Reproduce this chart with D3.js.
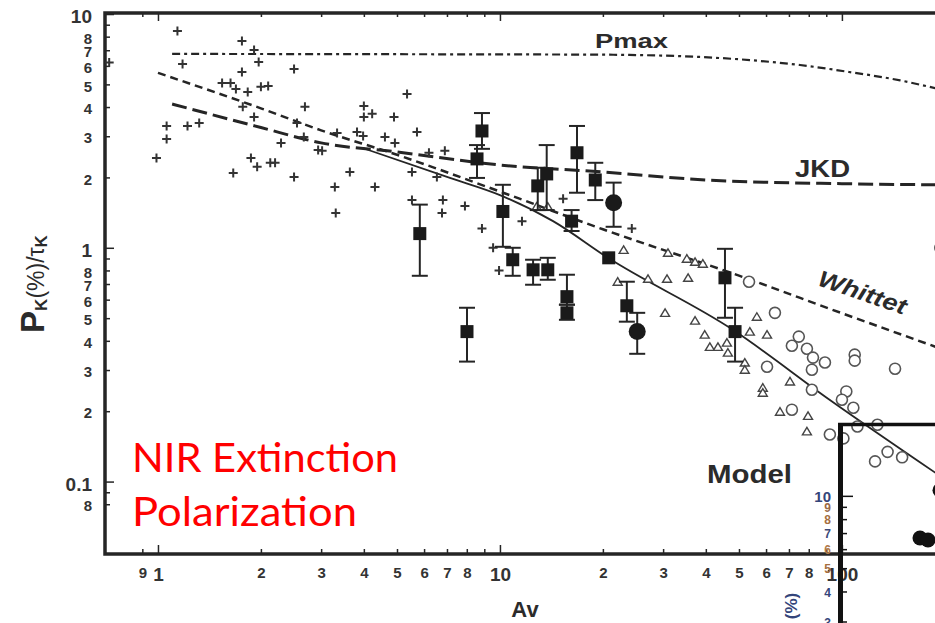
<!DOCTYPE html>
<html>
<head>
<meta charset="utf-8">
<script src="https://cdn.jsdelivr.net/npm/d3@7"></script>
<style>
  body { margin: 0; background: #fff; }
  svg { display: block; font-family: "Liberation Sans", Arial, sans-serif; }
</style>
</head>
<body>
<div id="chart"></div>
<script>
// Pk(%)/tauK against Av, log-log
// =========================================================

// field stars (+)
var crossPts = [
  [0.72,6.2],[1.14,8.46],[1.76,7.67],[1.91,7.02],[1.18,6.11],[1.97,6.24],[2.50,5.82],[1.76,5.65],
  [1.54,5.07],[1.63,5.07],[1.69,4.78],[1.83,4.64],[2.00,4.88],[2.10,4.92],[2.69,4.01],[1.77,4.01],
  [1.91,3.63],[1.06,3.32],[1.22,3.32],[1.32,3.42],[2.55,3.42],[1.06,2.92],[2.29,2.81],[2.67,2.98],
  [2.94,2.62],[0.99,2.42],[1.87,2.42],[1.95,2.22],[2.13,2.31],[2.20,2.31],[1.66,2.09],[2.50,2.01],
  [5.35,4.55],[4.00,4.04],[4.00,3.63],[4.23,3.74],[4.90,3.63],[5.72,3.13],[3.34,3.10],[3.82,3.13],
  [3.98,3.01],[4.61,2.98],[4.93,2.81],[3.02,2.60],[6.20,2.55],[6.90,2.60],[3.64,2.11],[5.53,2.11],
  [6.54,2.01],[3.29,1.82],[4.31,1.82],[5.53,1.60],[6.81,1.60],[7.90,1.51],[3.31,1.41],[6.77,1.41],
  [15.3,1.62],[8.86,1.21],[11.6,1.30],[9.94,0.80],[9.55,1.00],[24.3,1.21]
];

// open triangles
var triPts = [
  [23.0,0.98],[31.0,0.952],[35.2,0.898],[37.2,0.871],[39.2,0.855],[22.1,0.716],[27.1,0.737],
  [30.8,0.737],[35.5,0.744],[30.4,0.527],[37.2,0.488],[56.4,0.507],[39.7,0.425],[53.8,0.438],
  [60.4,0.425],[41.1,0.377],[43.4,0.377],[46.1,0.393],[46.4,0.356],[52.0,0.323],[52.0,0.301],
  [70.5,0.268],[58.7,0.252],[58.7,0.240],[65.9,0.199],[79.6,0.191],[79.0,0.164],[12.8,1.50],[13.8,1.50]
];

// open circles
var circPts = [
  [53.5,0.716],[63.7,0.527],[74.8,0.417],[71.4,0.381],[79.0,0.370],[82.3,0.339],[89.2,0.323],
  [81.7,0.301],[60.4,0.310],[109,0.349],[109,0.329],[143,0.304],[81.7,0.247],[103,0.243],
  [100,0.224],[108,0.207],[71.4,0.203],[111,0.172],[127,0.175],[92.2,0.159],[101,0.153],
  [125,0.122],[136,0.134],[150,0.127],[194,1.0]
];

// filled squares with error bars: Av, value, low, high
var sqPts = [
  [8.86,3.16,2.65,3.77],[8.57,2.40,1.99,2.75],[10.2,1.43,1.01,1.86],[13.7,2.07,1.45,2.75],
  [12.9,1.84,1.45,2.20],[16.8,2.55,1.72,3.32],[19.0,1.95,1.60,2.31],[16.2,1.30,1.18,1.45],
  [5.83,1.15,0.759,1.53],[8.01,0.438,0.326,0.554],[10.9,0.889,0.759,1.0],[12.5,0.805,0.695,0.889],
  [13.8,0.805,0.730,0.906],[15.7,0.618,0.571,0.767],[15.7,0.527,0.492,0.571],[20.8,0.906,0.906,0.906],
  [23.5,0.565,0.483,0.716],[45.5,0.744,0.502,0.99],[48.7,0.438,0.326,0.554]
];

// filled circles with error bars
var dotPts = [[21.5,1.56,1.23,1.90],[25.2,0.438,0.352,0.527]];

// curves
var pmaxAv = [1.1, 5, 19.6, 38.4, 53.8, 75.4, 105, 148, 195];
var pmaxP  = [6.75, 6.73, 6.7, 6.55, 6.35, 6.05, 5.65, 5.2, 4.75];
var jkdAv  = [1.1, 2.0, 3.0, 5.0, 10, 20, 40, 100, 195];
var jkdP   = [4.12, 3.27, 2.81, 2.57, 2.26, 2.11, 1.95, 1.88, 1.86];
var whitAv = [1.0, 2, 3, 5, 10, 20, 50, 100, 195];
var whitP  = [5.6, 3.95, 3.18, 2.5, 1.74, 1.2, 0.76, 0.525, 0.37];
var modelAv = [4.0, 7.14, 10, 14.3, 20.7, 48, 92, 195];
var modelP  = [2.66, 1.99, 1.68, 1.30, 0.906, 0.446, 0.224, 0.105];

// ticks
var xTicks = [0.9,1,2,3,4,5,6,7,8,9,10,20,30,40,50,60,70,80,90,100];
var xTickLabels = ["9","1","2","3","4","5","6","7","8","","10","2","3","4","5","6","7","8","","100"];
var yTicks = [0.08,0.09,0.1,0.2,0.3,0.4,0.5,0.6,0.7,0.8,0.9,1,2,3,4,5,6,7,8,9,10];
var yTickLabels = ["8","","0.1","2","3","4","5","6","7","8","","1","2","3","4","5","6","7","8","","10"];
var majors = [1, 10, 100, 0.1];

// inset (another figure pasted over the corner)
var insetTicks = [10,9,8,7,6,5,4,3];
var insetColors = ["#34457a","#9a6a45","#a56e40","#3c4a78","#b07a4a","#a56e40","#34457a","#34457a"];
var insetPts = [[0.50,10.6],[0.40,6.71],[0.44,6.58]];

var width = 935, height = 623;
var ink = "#252525";

var svg = d3.select("#chart").append("svg")
    .attr("width", width)
    .attr("height", height);

svg.append("rect").attr("width", width).attr("height", height).attr("fill", "#fff");

var x = d3.scaleLog().domain([0.7, 250]).range([105, 978]);
var y = d3.scaleLog().domain([0.049, 10.1]).range([554, 13]);

svg.append("clipPath").attr("id", "plotclip")
  .append("rect").attr("x", 105).attr("y", 13).attr("width", 873).attr("height", 541);

var isMajor = function(d) { return majors.indexOf(d) >= 0; };

// axes
var xAxis = svg.append("g")
    .attr("transform", "translate(0,554)")
    .call(d3.axisBottom(x).tickValues(xTicks)
        .tickFormat(function(d, i) { return xTickLabels[i]; })
        .tickSizeInner(-5).tickSizeOuter(0).tickPadding(13));
xAxis.select(".domain").remove();
xAxis.selectAll(".tick line").attr("stroke", ink).attr("stroke-width", 1.5)
    .attr("y2", function(d) { return isMajor(d) ? -9 : -5; });
xAxis.selectAll(".tick text")
    .attr("fill", "#333").attr("font-weight", "bold")
    .attr("font-size", function(d) { return isMajor(d) ? 19 : 15; })
    .attr("y", function(d) { return isMajor(d) ? 14 : 13; });

var topAxis = svg.append("g")
    .attr("transform", "translate(0,13)")
    .call(d3.axisTop(x).tickValues(xTicks).tickFormat("").tickSizeInner(-4).tickSizeOuter(0));
topAxis.select(".domain").remove();
topAxis.selectAll(".tick line").attr("stroke", ink).attr("stroke-width", 1.5)
    .attr("y2", function(d) { return isMajor(d) ? 8 : 4; });

var yAxis = svg.append("g")
    .attr("transform", "translate(105,0)")
    .call(d3.axisLeft(y).tickValues(yTicks)
        .tickFormat(function(d, i) { return yTickLabels[i]; })
        .tickSizeInner(-5).tickSizeOuter(0).tickPadding(13));
yAxis.select(".domain").remove();
yAxis.selectAll(".tick line").attr("stroke", ink).attr("stroke-width", 1.5)
    .attr("x2", function(d) { return isMajor(d) ? 9 : 5; });
yAxis.selectAll(".tick text")
    .attr("fill", "#333").attr("font-weight", "bold")
    .attr("font-size", function(d) { return isMajor(d) ? 19 : 15; })
    .attr("dy", "0.45em");

// frame
svg.append("rect")
    .attr("x", 105).attr("y", 13).attr("width", 873).attr("height", 541)
    .attr("fill", "none").attr("stroke", ink).attr("stroke-width", 3.5);

var plot = svg.append("g").attr("clip-path", "url(#plotclip)");

// curves
var line = d3.line()
    .x(function(d) { return x(d[0]); })
    .y(function(d) { return y(d[1]); })
    .curve(d3.curveMonotoneX);

function zip(a, b) { return a.map(function(v, i) { return [v, b[i]]; }); }

var curves = [
  {pts: zip(pmaxAv, pmaxP), dash: "8,4,3,4", w: 2.2},
  {pts: zip(jkdAv, jkdP), dash: "15,6", w: 3},
  {pts: zip(whitAv, whitP), dash: "8,5", w: 2.5},
  {pts: zip(modelAv, modelP), dash: null, w: 1.8}
];
plot.selectAll("path.curve")
    .data(curves)
    .enter().append("path")
    .attr("class", "curve")
    .attr("d", function(d) { return line(d.pts); })
    .attr("fill", "none")
    .attr("stroke", ink)
    .attr("stroke-width", function(d) { return d.w; })
    .attr("stroke-dasharray", function(d) { return d.dash; });

// crosses
plot.selectAll("path.cross")
    .data(crossPts)
    .enter().append("path")
    .attr("class", "cross")
    .attr("transform", function(d) { return "translate(" + x(d[0]) + "," + y(d[1]) + ")"; })
    .attr("d", "M-4.5,0H4.5M0,-4.5V4.5")
    .attr("stroke", "#333").attr("stroke-width", 2);

// triangles
plot.selectAll("path.tri")
    .data(triPts)
    .enter().append("path")
    .attr("class", "tri")
    .attr("transform", function(d) { return "translate(" + x(d[0]) + "," + y(d[1]) + ")"; })
    .attr("d", "M0,-4L4.5,3.5H-4.5Z")
    .attr("fill", "#fff").attr("stroke", "#444").attr("stroke-width", 1.4);

// open circles
plot.selectAll("circle.open")
    .data(circPts)
    .enter().append("circle")
    .attr("class", "open")
    .attr("cx", function(d) { return x(d[0]); })
    .attr("cy", function(d) { return y(d[1]); })
    .attr("r", 5.5)
    .attr("fill", "#fff").attr("stroke", "#555").attr("stroke-width", 1.6);

// error bars
var bars = sqPts.concat(dotPts).filter(function(d) { return d[3] > d[2]; });
var eb = plot.selectAll("g.err").data(bars).enter().append("g").attr("class", "err")
    .attr("stroke", ink).attr("stroke-width", 2);
eb.append("line")
    .attr("x1", function(d) { return x(d[0]); }).attr("x2", function(d) { return x(d[0]); })
    .attr("y1", function(d) { return y(d[2]); }).attr("y2", function(d) { return y(d[3]); });
eb.append("line")
    .attr("x1", function(d) { return x(d[0]) - 8; }).attr("x2", function(d) { return x(d[0]) + 8; })
    .attr("y1", function(d) { return y(d[2]); }).attr("y2", function(d) { return y(d[2]); });
eb.append("line")
    .attr("x1", function(d) { return x(d[0]) - 8; }).attr("x2", function(d) { return x(d[0]) + 8; })
    .attr("y1", function(d) { return y(d[3]); }).attr("y2", function(d) { return y(d[3]); });

// filled squares
plot.selectAll("rect.sq")
    .data(sqPts)
    .enter().append("rect")
    .attr("class", "sq")
    .attr("x", function(d) { return x(d[0]) - 6.5; })
    .attr("y", function(d) { return y(d[1]) - 6.5; })
    .attr("width", 13).attr("height", 13)
    .attr("fill", "#1a1a1a");

// filled circles
plot.selectAll("circle.dot")
    .data(dotPts)
    .enter().append("circle")
    .attr("class", "dot")
    .attr("cx", function(d) { return x(d[0]); })
    .attr("cy", function(d) { return y(d[1]); })
    .attr("r", 8.5)
    .attr("fill", "#1a1a1a");

// curve names
var lab = svg.append("g").attr("fill", "#2b2b2b").attr("font-weight", "bold");
lab.append("text").attr("x", 595).attr("y", 48).attr("font-size", 21)
    .attr("textLength", 73).attr("lengthAdjust", "spacingAndGlyphs").text("Pmax");
lab.append("text").attr("x", 795).attr("y", 177).attr("font-size", 23)
    .attr("textLength", 55).attr("lengthAdjust", "spacingAndGlyphs").text("JKD");
lab.append("text").attr("transform", "translate(860,300) rotate(19)")
    .attr("text-anchor", "middle").attr("font-size", 23).attr("font-style", "italic")
    .attr("textLength", 92).attr("lengthAdjust", "spacingAndGlyphs").text("Whittet");
lab.append("text").attr("x", 707).attr("y", 483).attr("font-size", 25)
    .attr("textLength", 85).attr("lengthAdjust", "spacingAndGlyphs").text("Model");

// axis titles
svg.append("text").attr("x", 525).attr("y", 617).attr("text-anchor", "middle")
    .attr("font-size", 22).attr("font-weight", "bold").attr("fill", "#2b2b2b").text("Av");

var yt = svg.append("text")
    .attr("transform", "translate(44,284) rotate(-90)")
    .attr("text-anchor", "middle").attr("fill", "#2b2b2b");
yt.append("tspan").attr("font-size", 33).attr("font-weight", "bold").text("P");
yt.append("tspan").attr("font-size", 17).attr("font-weight", "bold").attr("dy", 3).text("K");
yt.append("tspan").attr("font-size", 23).attr("dy", -3).text("(%)/\u03c4");
yt.append("tspan").attr("font-size", 17).attr("font-weight", "bold").attr("dy", 3).text("K");

// red caption
var red = svg.append("g").attr("fill", "#f00")
    .attr("font-family", "Lato, 'Open Sans', sans-serif").attr("font-size", 40);
red.append("text").attr("x", 132).attr("y", 472)
    .attr("textLength", 266).attr("lengthAdjust", "spacingAndGlyphs").text("NIR Extinction");
red.append("text").attr("x", 132).attr("y", 526)
    .attr("textLength", 225).attr("lengthAdjust", "spacingAndGlyphs").text("Polarization");

// inset corner
var iy = d3.scaleLog().domain([3, 20]).range([622, 424]);
var ix = d3.scaleLinear().domain([0, 1]).range([840, 1040]);

var inset = svg.append("g");
inset.selectAll("circle")
    .data(insetPts)
    .enter().append("circle")
    .attr("cx", function(d) { return ix(d[0]); })
    .attr("cy", function(d) { return iy(d[1]); })
    .attr("r", 7.5)
    .attr("fill", "#111");
inset.append("line").attr("x1", 838).attr("x2", 935).attr("y1", 424.5).attr("y2", 424.5)
    .attr("stroke", "#111").attr("stroke-width", 3.5);
inset.append("line").attr("x1", 840.5).attr("x2", 840.5).attr("y1", 423).attr("y2", 623)
    .attr("stroke", "#111").attr("stroke-width", 5);
inset.selectAll("line.itick")
    .data(insetTicks)
    .enter().append("line")
    .attr("class", "itick")
    .attr("x1", 842).attr("x2", function(d) { return d === 10 ? 853 : 847; })
    .attr("y1", function(d) { return iy(d); }).attr("y2", function(d) { return iy(d); })
    .attr("stroke", "#111").attr("stroke-width", 1.5);
inset.selectAll("text.ilab")
    .data(insetTicks)
    .enter().append("text")
    .attr("class", "ilab")
    .attr("x", 831)
    .attr("y", function(d) { return iy(d); })
    .attr("dy", "0.38em")
    .attr("text-anchor", "end")
    .attr("font-weight", "bold")
    .attr("font-size", function(d) { return d === 10 ? 15 : 12; })
    .attr("fill", function(d, i) { return insetColors[i]; })
    .text(function(d) { return d; });
inset.append("text")
    .attr("transform", "translate(797,606) rotate(-90)")
    .attr("text-anchor", "middle").attr("font-weight", "bold").attr("font-size", 17)
    .attr("fill", "#34457a").text("(%)");
</script>
</body>
</html>
